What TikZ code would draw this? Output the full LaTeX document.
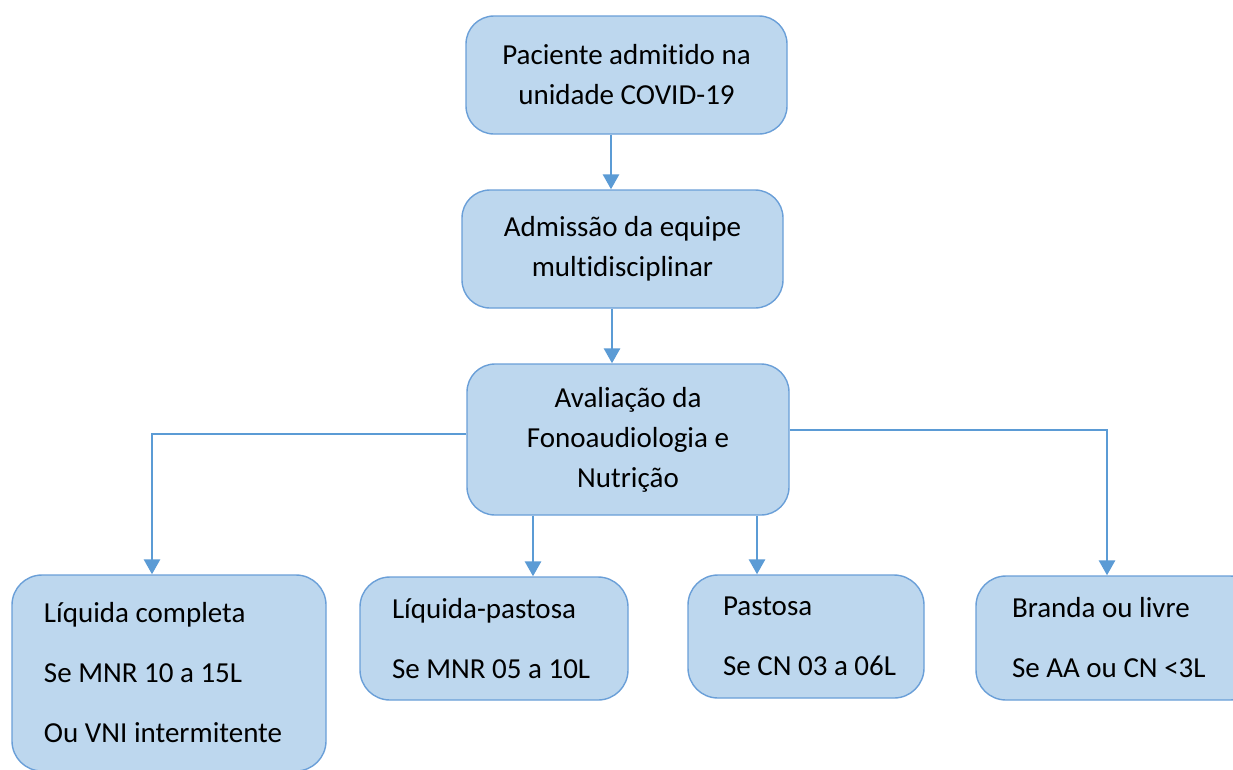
\documentclass[tikz,border=0pt]{standalone}
\usepackage{fontspec}
\setmainfont{Carlito}[Ligatures=NoCommon]
\usetikzlibrary{arrows.meta}
\definecolor{boxfill}{HTML}{BDD7EE}
\definecolor{boxline}{HTML}{6A9FD8}
\definecolor{arrcol}{HTML}{5B9BD5}
\begin{document}
\begin{tikzpicture}[x=1pt,y=-1pt,
  box/.style={draw=boxline, fill=boxfill, line width=1.4pt, rounded corners=28pt,
    font=\fontsize{29}{40}\selectfont, align=center, inner sep=0pt},
  leaf/.style={draw=boxline, fill=boxfill, line width=1.4pt, rounded corners=30pt,
    font=\fontsize{29}{60}\selectfont, align=left, inner sep=0pt},
  indent/.style={execute at begin node={\leftskip=#1\relax\spaceskip=0pt\relax\xspaceskip=0pt\relax}},
  arr/.style={draw=arrcol, line width=2.9pt, -{Triangle[length=15pt,width=16pt]}}]
\useasboundingbox (0,0) rectangle (1233,769);
\fill[white] (0,0) rectangle (1233,769);
\node[box, minimum width=321pt, minimum height=118pt] (b1) at (626.5,75) {Paciente admitido na\\unidade COVID-19};
\node[box, minimum width=321pt, minimum height=118pt] (b2) at (622.5,249) {Admissão da equipe\\multidisciplinar};
\node[box, minimum width=322pt, minimum height=151pt] (b3) at (628,439.5) {Avaliação da\\Fonoaudiologia e\\Nutrição};
\node[leaf, text width=314pt, indent=32pt, minimum height=196pt] (l1) at (169,673) {Líquida completa\\Se MNR 10 a 15L\\Ou VNI intermitente};
\node[leaf, text width=268pt, indent=32pt, minimum height=123pt] (l2) at (494,638.5) {Líquida-pastosa\\Se MNR 05 a 10L};
\node[leaf, text width=236pt, indent=35pt, minimum height=123pt] (l3) at (806,636.5) {Pastosa\\Se CN 03 a 06L};
\node[leaf, text width=284pt, indent=36pt, minimum height=124pt] (l4) at (1118,638) {Branda ou livre\\Se AA ou CN <3L};
\draw[arr] (b1.south -| 611,0) -- (b2.north -| 611,0);
\draw[arr] (b2.south -| 612,0) -- (b3.north -| 612,0);
\draw[arr] ([yshift=5.5pt]b3.west) -| ([xshift=-17pt]l1.north);
\draw[arr] ([yshift=9.5pt]b3.east) -| ([xshift=-11pt]l4.north);
\draw[arr] ([xshift=-95pt]b3.south) -- ([xshift=-95pt]b3.south |- l2.north);
\draw[arr] ([xshift=129pt]b3.south) -- ([xshift=129pt]b3.south |- l3.north);
\end{tikzpicture}
\end{document}
